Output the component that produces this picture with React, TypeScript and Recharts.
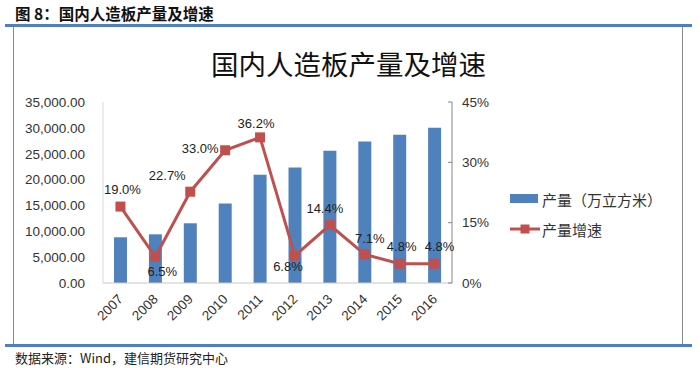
import React from 'react';
import { ComposedChart, Bar, Line, XAxis, YAxis, Legend, LabelList } from 'recharts';

const years = ['2007', '2008', '2009', '2010', '2011', '2012', '2013', '2014', '2015', '2016'];
const output = [8838, 9410, 11547, 15361, 20919, 22336, 25560, 27372, 28680, 30042];
const growth = [19.0, 6.5, 22.7, 33.0, 36.2, 6.8, 14.4, 7.1, 4.8, 4.8];
const leftTicks = [0, 5000, 10000, 15000, 20000, 25000, 30000, 35000];
const rightTicks = [0, 15, 30, 45];
const seriesNames = ['产量（万立方米）', '产量增速'];

// label placement offsets (style only)
const LABEL_OFFSETS: [number, number][] = [
  [2, -17], [7, 15], [-23, -16], [-25, -2], [-4, -14],
  [-7, 11], [-5, -17], [5, -16], [2, -17], [5, -17],
];

const data = years.map((y, i) => ({ year: y, output: output[i], growth: growth[i] }));

const BLUE = '#4F81BD';
const RED = '#C0504D';
const CJK = '"Noto Sans CJK SC", "Noto Sans", sans-serif';
const LAT = '"Liberation Sans", Arial, sans-serif';

const fmtLeft = (v: number) =>
  v.toLocaleString('en-US', { minimumFractionDigits: 2, maximumFractionDigits: 2 });

const YearTick = (props: any) => {
  const { x, y, payload } = props;
  const ax = x + 3.5;
  const ay = y + 9;
  return (
    <text x={ax} y={ay} transform={`rotate(-45, ${ax}, ${ay})`} textAnchor="end"
      fontFamily={LAT} fontSize={13.5} fill="#333">
      {payload.value}
    </text>
  );
};

const SquareDot = (props: any) => {
  const { cx, cy, index } = props;
  if (cx == null || cy == null) return null;
  return <rect key={`d${index}`} x={cx - 5} y={cy - 5} width={10} height={10} fill={RED} />;
};

const GrowthLabel = (props: any) => {
  const { x, y, value, index } = props;
  const [dx, dy] = LABEL_OFFSETS[index] || [0, -16];
  return (
    <text x={x + dx} y={y + dy} textAnchor="middle" dominantBaseline="central"
      fontFamily={LAT} fontSize={13} fill="#222">
      {`${Number(value).toFixed(1)}%`}
    </text>
  );
};

const LegendContent = () => (
  <svg width={180} height={60} style={{ display: 'block' }}>
    <rect x={5} y={8} width={28} height={9} fill={BLUE} />
    <text x={37} y={13} dominantBaseline="central" fontFamily={CJK} fontSize={15} fill="#333">
      {seriesNames[0]}
    </text>
    <line x1={5} y1={43} x2={35} y2={43} stroke={RED} strokeWidth={3} />
    <rect x={15.5} y={38.5} width={9} height={9} fill={RED} />
    <text x={37} y={43} dominantBaseline="central" fontFamily={CJK} fontSize={15} fill="#333">
      {seriesNames[1]}
    </text>
  </svg>
);

export default function App() {
  return (
    <div style={{ position: 'absolute', left: 0, top: 0, width: 700, height: 368, background: '#fff', overflow: 'hidden' }}>
      <div style={{ position: 'absolute', left: 15, top: 6, fontFamily: CJK, fontWeight: 700, fontSize: 15.5, lineHeight: '15px', color: '#111', whiteSpace: 'nowrap' }}>
        图 8：国内人造板产量及增速
      </div>
      <div style={{ position: 'absolute', left: 5, top: 24, width: 687, height: 3, background: '#4F7FC0' }} />
      <div style={{ position: 'absolute', left: 13, top: 27, width: 1, height: 318, background: '#8a8a8a' }} />
      <div style={{ position: 'absolute', left: 682, top: 27, width: 1, height: 318, background: '#8a8a8a' }} />
      <div style={{ position: 'absolute', left: 5, top: 344, width: 687, height: 3, background: '#4F7FC0' }} />
      <div style={{ position: 'absolute', left: 15, top: 351, fontFamily: CJK, fontSize: 13, lineHeight: '13px', color: '#222', whiteSpace: 'nowrap' }}>
        数据来源：Wind，建信期货研究中心
      </div>
      <div style={{ position: 'absolute', left: 0, top: 49, width: 697, textAlign: 'center', fontFamily: CJK, fontSize: 27.5, lineHeight: '28px', color: '#111' }}>
        国内人造板产量及增速
      </div>
      <div style={{ position: 'absolute', left: 0, top: 0 }}>
        <ComposedChart width={700} height={368} data={data}
          margin={{ top: 102, right: 208, bottom: 55, left: 13 }}>
          <XAxis dataKey="year" tick={<YearTick />} tickLine={false} axisLine={{ stroke: '#c8c8c8' }}
            height={30} interval={0} />
          <YAxis yAxisId="left" orientation="left" width={90} domain={[0, 35000]} ticks={leftTicks}
            tickFormatter={fmtLeft} tickLine={false} axisLine={{ stroke: '#d9d9d9' }}
            tickMargin={12} tick={{ fontFamily: LAT, fontSize: 13.5, fill: '#333' }} />
          <YAxis yAxisId="right" orientation="right" width={40} domain={[0, 45]} ticks={rightTicks}
            tickFormatter={(v: number) => `${v}%`} tickSize={-4} tickMargin={14}
            tickLine={{ stroke: '#868686' }} axisLine={{ stroke: '#868686' }}
            tick={{ fontFamily: LAT, fontSize: 13.5, fill: '#333', textAnchor: 'start' }} />
          <Bar yAxisId="left" dataKey="output" fill={BLUE} barSize={13} isAnimationActive={false} />
          <Line yAxisId="right" dataKey="growth" stroke={RED} strokeWidth={3} dot={<SquareDot />}
            activeDot={false} isAnimationActive={false}>
            <LabelList dataKey="growth" content={<GrowthLabel />} />
          </Line>
          <Legend layout="vertical" align="center" verticalAlign="middle" content={<LegendContent />}
            wrapperStyle={{ position: 'absolute', left: 505, top: 186, width: 180, height: 60 }} />
        </ComposedChart>
      </div>
    </div>
  );
}
